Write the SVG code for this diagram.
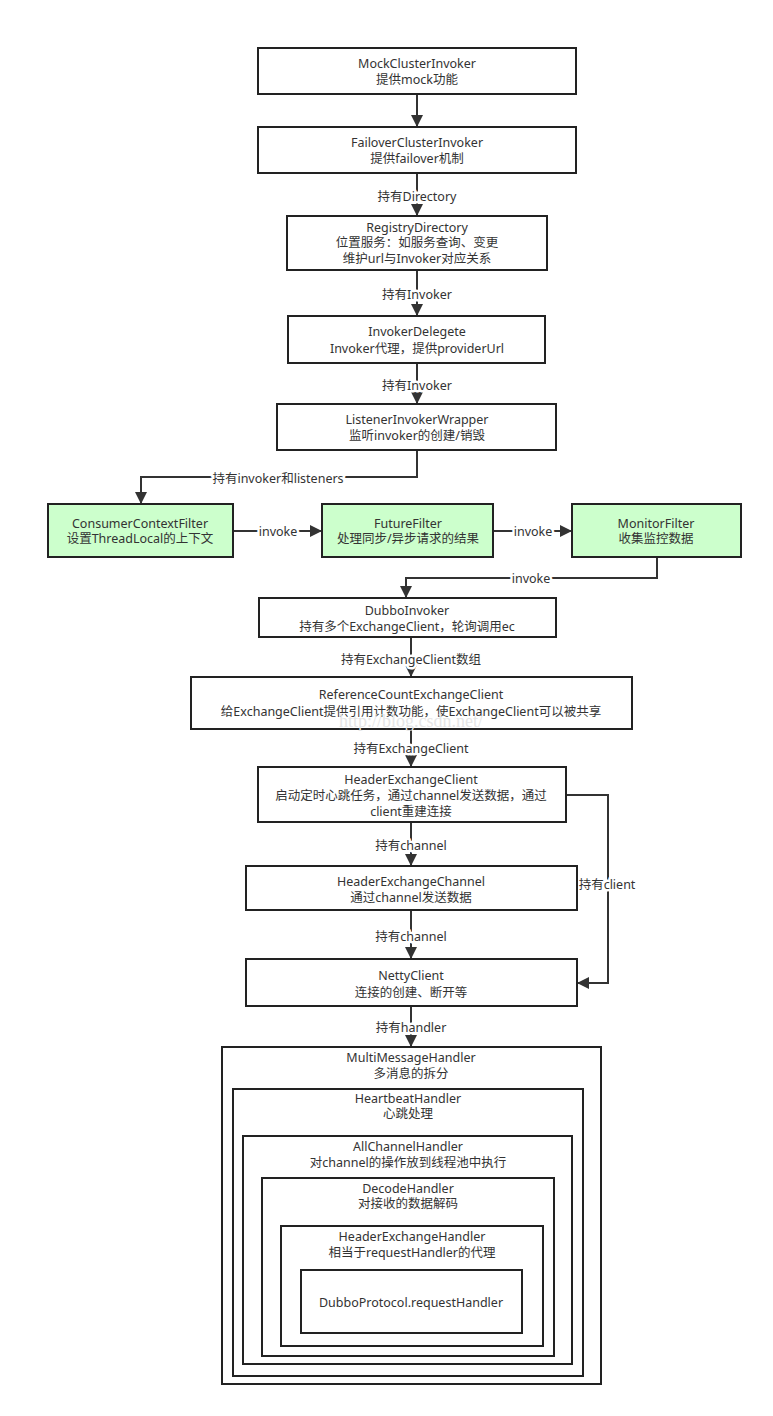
<svg xmlns="http://www.w3.org/2000/svg" width="773" height="1416" viewBox="0 0 773 1416">
<defs>
<marker id="arr" viewBox="0 0 10 10" refX="10" refY="5" markerWidth="12" markerHeight="12" markerUnits="userSpaceOnUse" orient="auto">
<path d="M0,0 L10,5 L0,10 z" fill="#333"/>
</marker>
<style>
.box{fill:#fff;stroke:#222;stroke-width:2}
.g{fill:#ccffcc}
.t{font-family:"Noto Sans","Noto Sans CJK SC",sans-serif;font-size:12.5px;fill:#333;text-anchor:middle}
.lbl{font-family:"Noto Sans","Noto Sans CJK SC",sans-serif;font-size:12.5px;fill:#333;text-anchor:middle;stroke:#fff;stroke-width:5px;paint-order:stroke;stroke-linejoin:round}
.c{fill:none;stroke:#333;stroke-width:2;marker-end:url(#arr)}
.wm{font-family:"Liberation Serif",serif;font-size:18px;fill:#e6e6e6;text-anchor:middle}
</style>
</defs>
<rect width="773" height="1416" fill="#fff"/>
<g id="connectors">
<path class="c" d="M417,94 V127"/>
<path class="c" d="M417,173 V216"/>
<path class="c" d="M417,270 V316"/>
<path class="c" d="M417,363 V404"/>
<path class="c" d="M417,450 V477 H141 V504"/>
<path class="c" d="M233,531 H322"/>
<path class="c" d="M493,531 H572"/>
<path class="c" d="M657,557 V578 H406 V598"/>
<path class="c" d="M411,637 V677"/>
<path class="c" d="M411,729 V767"/>
<path class="c" d="M411,822 V866"/>
<path class="c" d="M411,910 V959"/>
<path class="c" d="M566,795 H608 V983 H577"/>
<path class="c" d="M411,1006 V1047"/>
<text class="lbl" x="417" y="201">持有Directory</text>
<text class="lbl" x="417" y="299">持有Invoker</text>
<text class="lbl" x="417" y="390">持有Invoker</text>
<text class="lbl" x="278" y="483">持有invoker和listeners</text>
<text class="lbl" x="278" y="536">invoke</text>
<text class="lbl" x="533" y="536">invoke</text>
<text class="lbl" x="531" y="583">invoke</text>
<text class="lbl" x="411" y="664">持有ExchangeClient数组</text>
<text class="lbl" x="411" y="753">持有ExchangeClient</text>
<text class="lbl" x="411" y="850">持有channel</text>
<text class="lbl" x="411" y="941">持有channel</text>
<text class="lbl" x="607" y="889">持有client</text>
<text class="lbl" x="411" y="1032">持有handler</text>
</g>
<g id="n1"><rect class="box" x="258" y="48" width="318" height="46"/><text class="t" x="417" y="68">MockClusterInvoker</text><text class="t" x="417" y="84">提供mock功能</text></g>
<g id="n2"><rect class="box" x="258" y="127" width="318" height="46"/><text class="t" x="417" y="147">FailoverClusterInvoker</text><text class="t" x="417" y="163">提供failover机制</text></g>
<g id="n3"><rect class="box" x="287" y="216" width="260" height="54"/><text class="t" x="417" y="232">RegistryDirectory</text><text class="t" x="417" y="247">位置服务：如服务查询、变更</text><text class="t" x="417" y="263">维护url与Invoker对应关系</text></g>
<g id="n4"><rect class="box" x="288" y="316" width="257" height="47"/><text class="t" x="417" y="336">InvokerDelegete</text><text class="t" x="417" y="353">Invoker代理，提供providerUrl</text></g>
<g id="n5"><rect class="box" x="277" y="404" width="279" height="46"/><text class="t" x="417" y="424">ListenerInvokerWrapper</text><text class="t" x="417" y="440">监听invoker的创建/销毁</text></g>
<g id="n6"><rect class="box g" x="48" y="504" width="185" height="53"/><text class="t" x="140" y="528">ConsumerContextFilter</text><text class="t" x="140" y="543">设置ThreadLocal的上下文</text></g>
<g id="n7"><rect class="box g" x="322" y="504" width="171" height="53"/><text class="t" x="408" y="528">FutureFilter</text><text class="t" x="408" y="543">处理同步/异步请求的结果</text></g>
<g id="n8"><rect class="box g" x="572" y="504" width="169" height="53"/><text class="t" x="656" y="528">MonitorFilter</text><text class="t" x="656" y="543">收集监控数据</text></g>
<g id="n9"><rect class="box" x="259" y="598" width="297" height="39"/><text class="t" x="407" y="615">DubboInvoker</text><text class="t" x="407" y="631">持有多个ExchangeClient，轮询调用ec</text></g>
<g id="n10"><rect class="box" x="191" y="677" width="441" height="52"/><text class="t" x="411" y="699">ReferenceCountExchangeClient</text><text class="t" x="411" y="716">给ExchangeClient提供引用计数功能，使ExchangeClient可以被共享</text></g>
<g id="n11"><rect class="box" x="258" y="767" width="308" height="55"/><text class="t" x="411" y="784">HeaderExchangeClient</text><text class="t" x="411" y="800">启动定时心跳任务，通过channel发送数据，通过</text><text class="t" x="411" y="816">client重建连接</text></g>
<g id="n12"><rect class="box" x="246" y="866" width="331" height="44"/><text class="t" x="411" y="886">HeaderExchangeChannel</text><text class="t" x="411" y="902">通过channel发送数据</text></g>
<g id="n13"><rect class="box" x="246" y="959" width="331" height="47"/><text class="t" x="411" y="980">NettyClient</text><text class="t" x="411" y="997">连接的创建、断开等</text></g>
<g id="n14"><rect class="box" x="222" y="1047" width="379" height="337"/><text class="t" x="411" y="1062">MultiMessageHandler</text><text class="t" x="411" y="1078">多消息的拆分</text></g>
<g id="n15"><rect class="box" x="233" y="1089" width="350" height="287"/><text class="t" x="408" y="1103">HeartbeatHandler</text><text class="t" x="408" y="1118">心跳处理</text></g>
<g id="n16"><rect class="box" x="243" y="1136" width="329" height="228"/><text class="t" x="408" y="1151">AllChannelHandler</text><text class="t" x="408" y="1167">对channel的操作放到线程池中执行</text></g>
<g id="n17"><rect class="box" x="262" y="1178" width="292" height="178"/><text class="t" x="408" y="1193">DecodeHandler</text><text class="t" x="408" y="1208">对接收的数据解码</text></g>
<g id="n18"><rect class="box" x="281" y="1226" width="262" height="120"/><text class="t" x="412" y="1241">HeaderExchangeHandler</text><text class="t" x="412" y="1257">相当于requestHandler的代理</text></g>
<g id="n19"><rect class="box" x="301" y="1270" width="221" height="63"/><text class="t" x="411" y="1307">DubboProtocol.requestHandler</text></g>
<text class="wm" x="411" y="727">http://blog.csdn.net/</text>
</svg>
